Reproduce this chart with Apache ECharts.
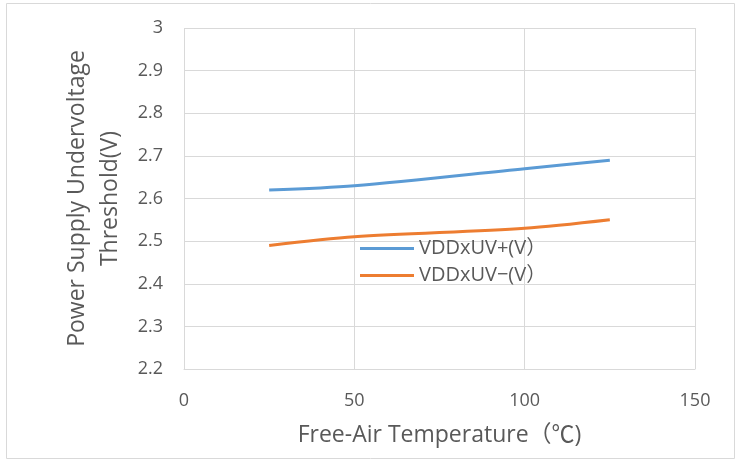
<!DOCTYPE html>
<html><head><meta charset="utf-8">
<script src="https://cdn.jsdelivr.net/npm/echarts@6/dist/echarts.min.js"></script>
<style>html,body{margin:0;padding:0;background:#fff}#c{width:739px;height:462px}</style>
</head><body><div id="c"></div>
<script>
const temps = [25, 50, 100, 125];
const uvPlus = [2.62, 2.63, 2.67, 2.69];
const uvMinus = [2.49, 2.51, 2.53, 2.55];
const seriesNames = ['VDDxUV+(V）', 'VDDxUV−(V）'];
const xTitle = 'Free-Air Temperature（℃)';
const yTitle = 'Power Supply Undervoltage\nThreshold(V)';

const font = '"Open Sans", "Noto Sans CJK SC", sans-serif';
const chart = echarts.init(document.getElementById('c'), null, {renderer: 'canvas'});
const gridLine = {show: true, lineStyle: {color: '#D9D9D9', width: 1}};
chart.setOption({
  animation: false,
  textStyle: {fontFamily: font},
  graphic: [{type: 'rect', shape: {x: 6.5, y: 3.5, width: 728, height: 455}, style: {fill: 'none', stroke: '#D9D9D9', lineWidth: 1}, silent: true, z: -1}],
  grid: {left: 184, right: 44, top: 28, bottom: 93},
  legend: {
    orient: 'vertical', left: 355, top: 233, itemWidth: 54, itemHeight: 3, itemGap: 6,
    icon: 'rect',
    textStyle: {color: '#595959', fontSize: 20, lineHeight: 21, fontFamily: font},
    data: seriesNames
  },
  xAxis: {
    type: 'value', min: 0, max: 150, interval: 50,
    name: xTitle, nameLocation: 'middle', nameGap: 55,
    nameTextStyle: {color: '#595959', fontSize: 23, fontFamily: font},
    axisLine: {show: true, lineStyle: {color: '#D9D9D9'}},
    axisTick: {show: false},
    axisLabel: {color: '#595959', fontSize: 18, margin: 23},
    splitLine: gridLine
  },
  yAxis: {
    type: 'value', min: 2.2, max: 3, interval: 0.1,
    name: yTitle, nameLocation: 'middle', nameGap: 57, nameRotate: 90,
    nameTextStyle: {color: '#595959', fontSize: 23, fontFamily: font, lineHeight: 33},
    axisLine: {show: false},
    axisTick: {show: false},
    axisLabel: {color: '#595959', fontSize: 18, margin: 21, formatter: v => String(+v.toFixed(1))},
    splitLine: gridLine
  },
  series: [
    {name: seriesNames[0], type: 'line', smooth: 0.3, showSymbol: false, data: temps.map((t, i) => [t, uvPlus[i]]), lineStyle: {color: '#5B9BD5', width: 3}, itemStyle: {color: '#5B9BD5'}},
    {name: seriesNames[1], type: 'line', smooth: 0.3, showSymbol: false, data: temps.map((t, i) => [t, uvMinus[i]]), lineStyle: {color: '#ED7D31', width: 3}, itemStyle: {color: '#ED7D31'}}
  ]
});
</script></body></html>
